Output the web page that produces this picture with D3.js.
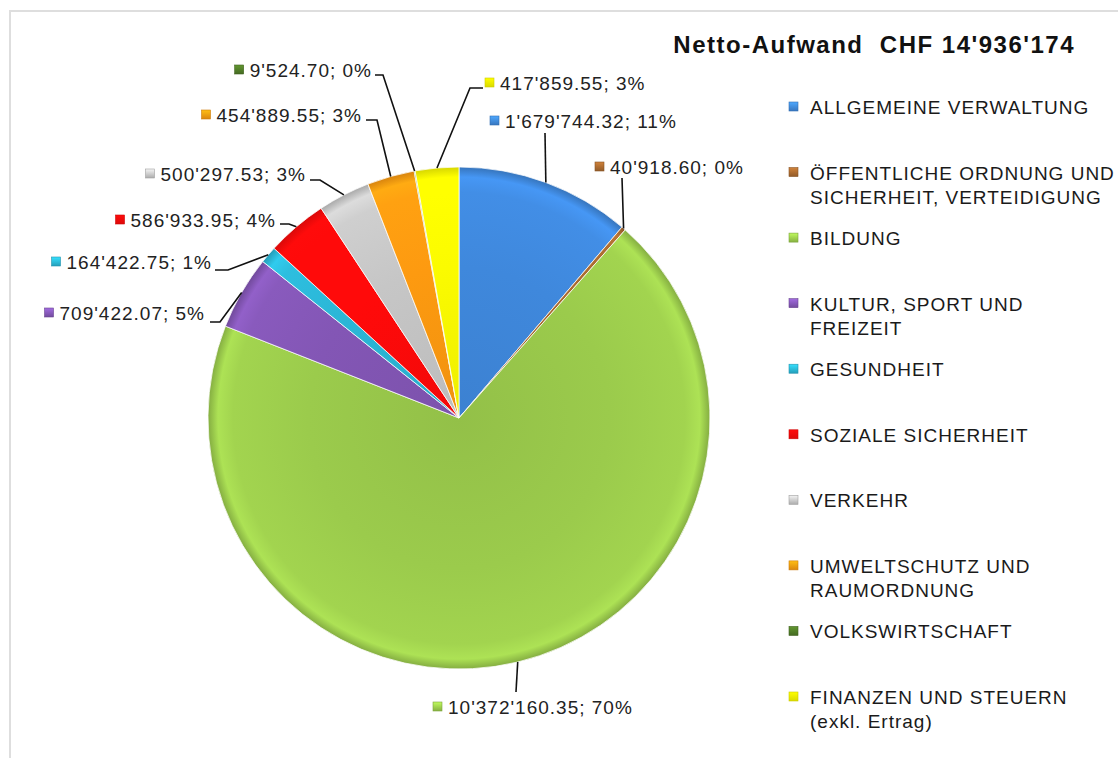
<!DOCTYPE html>
<html>
<head>
<meta charset="utf-8">
<script src="https://cdn.jsdelivr.net/npm/d3@7"></script>
<style>
  html, body { margin: 0; padding: 0; background: #fff; }
  svg { display: block; font-family: "Liberation Sans", Arial, sans-serif; }
  text { white-space: pre; }
</style>
</head>
<body>
<svg id="chart" width="1118" height="758"></svg>
<script>
// ---- DATA ----
const title = "Netto-Aufwand  CHF 14'936'174";
const categories = [
  "ALLGEMEINE VERWALTUNG",
  "ÖFFENTLICHE ORDNUNG UND\nSICHERHEIT, VERTEIDIGUNG",
  "BILDUNG",
  "KULTUR, SPORT UND\nFREIZEIT",
  "GESUNDHEIT",
  "SOZIALE SICHERHEIT",
  "VERKEHR",
  "UMWELTSCHUTZ UND\nRAUMORDNUNG",
  "VOLKSWIRTSCHAFT",
  "FINANZEN UND STEUERN\n(exkl. Ertrag)"
];
const values = [1679744.32, 40918.60, 10372160.35, 709422.07, 164422.75, 586933.95, 500297.53, 454889.55, 9524.70, 417859.55];
const percents = [11, 0, 70, 5, 1, 4, 3, 3, 0, 3];
const colors = ["#3f88dc", "#a8692f", "#9bcb4c", "#8356b5", "#2bb6d6", "#ff0a0a", "#c6c6c6", "#fd9a10", "#4f7a27", "#fbfb00"];

// ---- LAYOUT ----
const cx = 459, cy = 418, R = 251;
const labelLayout = [
  {tx: 505, ty: 121, anchor: "start", pts: [[545, 133]]},
  {tx: 610, ty: 167, anchor: "start", pts: [[622, 178]]},
  {tx: 448, ty: 707, anchor: "start", pts: [[516, 692]]},
  {tx: 205, ty: 313, anchor: "end", pts: [[220, 322], [210, 322]]},
  {tx: 212, ty: 262, anchor: "end", pts: [[228, 270], [215, 270]]},
  {tx: 276, ty: 220, anchor: "end", pts: [[289, 224], [280, 224]]},
  {tx: 306, ty: 174, anchor: "end", pts: [[320, 180], [310, 180]]},
  {tx: 362, ty: 115, anchor: "end", pts: [[377, 120], [366, 120]]},
  {tx: 372, ty: 70, anchor: "end", pts: [[383, 75], [375, 75]]},
  {tx: 500, ty: 83, anchor: "start", pts: [[470, 88], [483, 88]]}
];

const svg = d3.select("#chart");
const defs = svg.append("defs");

// frame
svg.append("path")
  .attr("d", "M10,758 L10,11 L1118,11")
  .attr("fill", "none").attr("stroke", "#dedede").attr("stroke-width", 2);

colors.forEach((c, i) => {
  const base = d3.color(c);
  const g = defs.append("radialGradient").attr("id", "sg" + i)
    .attr("gradientUnits", "userSpaceOnUse")
    .attr("cx", 0).attr("cy", 0).attr("r", R);
  g.append("stop").attr("offset", "0%").attr("stop-color", base.darker(0.15));
  g.append("stop").attr("offset", "60%").attr("stop-color", base);
  g.append("stop").attr("offset", "90%").attr("stop-color", base.brighter(0.12));
  g.append("stop").attr("offset", "96%").attr("stop-color", base.brighter(0.3));
  g.append("stop").attr("offset", "100%").attr("stop-color", base.darker(0.45));
  const m = defs.append("linearGradient").attr("id", "mg" + i)
    .attr("x1", 0).attr("y1", 0).attr("x2", 0).attr("y2", 1);
  m.append("stop").attr("offset", "0%").attr("stop-color", base.brighter(0.6));
  m.append("stop").attr("offset", "100%").attr("stop-color", base.darker(0.4));
});

const pie = d3.pie().sort(null).value(d => d)(values);
const arc = d3.arc().innerRadius(0).outerRadius(R);

const g = svg.append("g").attr("transform", `translate(${cx},${cy})`);
g.selectAll("path.slice").data(pie).join("path")
  .attr("class", "slice")
  .attr("d", arc)
  .attr("fill", (d, i) => `url(#sg${i})`)
  .attr("stroke", "rgba(255,255,255,0.75)")
  .attr("stroke-width", 1);

const loc = d3.formatLocale({decimal: ".", thousands: "'", grouping: [3], currency: ["", ""]});
const fmt = loc.format(",.2f");

const lineGen = d3.line();
pie.forEach((d, i) => {
  const a = (d.startAngle + d.endAngle) / 2;
  const p0 = [cx + R * Math.sin(a), cy - R * Math.cos(a)];
  const pts = [p0].concat(labelLayout[i].pts);
  svg.append("path").attr("d", lineGen(pts))
    .attr("fill", "none").attr("stroke", "#111").attr("stroke-width", 1.6);
});

pie.forEach((d, i) => {
  const L = labelLayout[i];
  const t = svg.append("text")
    .attr("x", L.tx).attr("y", L.ty + 7)
    .attr("text-anchor", L.anchor)
    .attr("font-size", 19).attr("letter-spacing", 1.0)
    .attr("fill", "#222")
    .text(`${fmt(values[i])}; ${percents[i]}%`);
  const len = t.node().getComputedTextLength();
  const start = L.anchor === "start" ? L.tx : L.tx - len;
  svg.append("rect")
    .attr("x", start - 15).attr("y", L.ty - 5)
    .attr("width", 9).attr("height", 9)
    .attr("fill", `url(#mg${i})`)
    .attr("stroke", d3.color(colors[i]).darker(0.6)).attr("stroke-width", 0.6);
});

svg.append("text")
  .attr("x", 1075).attr("y", 53)
  .attr("text-anchor", "end")
  .attr("font-size", 24).attr("font-weight", "bold").attr("letter-spacing", 1.5)
  .attr("fill", "#111")
  .text(title);

const ly = d3.scalePoint().domain(d3.range(categories.length)).range([107, 697]);
categories.forEach((c, i) => {
  const y = ly(i);
  svg.append("rect")
    .attr("x", 789).attr("y", y - 5).attr("width", 9).attr("height", 9)
    .attr("fill", `url(#mg${i})`)
    .attr("stroke", d3.color(colors[i]).darker(0.6)).attr("stroke-width", 0.6);
  const lines = c.split("\n");
  const t = svg.append("text")
    .attr("x", 810).attr("y", y + 7)
    .attr("font-size", 19).attr("letter-spacing", 1.0)
    .attr("fill", "#1a1a1a");
  lines.forEach((ln, j) => {
    t.append("tspan").attr("x", 810).attr("dy", j === 0 ? 0 : 24).text(ln);
  });
});
</script>
</body>
</html>
